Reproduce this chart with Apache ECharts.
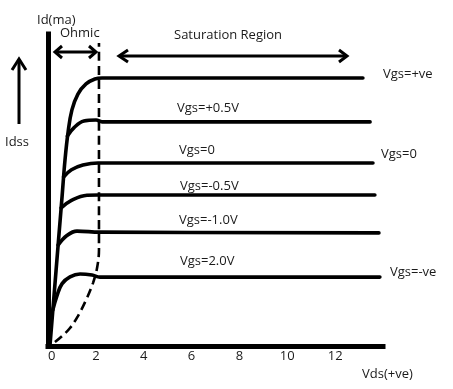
<!DOCTYPE html>
<html>
<head>
<meta charset="utf-8">
<script src="https://cdn.jsdelivr.net/npm/echarts@6/dist/echarts.min.js"></script>
<style>html,body{margin:0;padding:0;background:#fff}#c{width:453px;height:389px}</style>
</head>
<body>
<div id="c"></div>
<script>
// Vds tick labels
var xTickLabels = ['0', '2', '4', '6', '8', '10', '12'];
// Drain current curves: [Vds, Id]
var curvePlusVe = [[0.08,0],[0.25,1.92],[0.42,3.85],[0.59,5.77],[0.71,7.15],[0.84,8.23],[1.00,9.08],[1.25,9.69],[1.59,10.08],[1.96,10.27],[2.26,10.31],[13.16,10.31]];
var curvePlus05 = [[0.81,8.08],[1.09,8.40],[1.50,8.65],[2.01,8.69],[2.26,8.62],[13.46,8.62]];
var curveZero = [[0.65,6.5],[0.98,6.78],[1.46,6.96],[2.09,7.04],[13.58,7.04]];
var curveMinus05 = [[0.55,5.31],[0.98,5.60],[1.63,5.80],[2.09,5.81],[13.66,5.81]];
var curveMinus10 = [[0.42,3.88],[0.79,4.25],[1.21,4.42],[2.17,4.38],[13.83,4.35]];
var curveMinus20 = [[0.20,1.38],[0.38,1.95],[0.59,2.40],[0.92,2.66],[1.34,2.77],[1.84,2.73],[2.17,2.65],[13.87,2.65]];
// Pinch-off boundary (dashed)
var pinchOff = [[0.29,0.15],[0.59,0.38],[0.92,0.69],[1.25,1.15],[1.59,1.77],[1.88,2.42],[2.05,3.0],[2.13,3.69],[2.13,11.65]];

var FONT = '13px "Open Sans"';
var TXT = '#1a1a1a';
function txt(s, x, y) {
  return {type:'text', x:x, y:y, style:{text:s, font:FONT, fill:TXT, align:'left', verticalAlign:'middle'}};
}
function pl(points, w) {
  return {type:'polyline', shape:{points:points}, style:{stroke:'#000', lineWidth:w||3, fill:null, lineCap:'butt', lineJoin:'miter'}};
}
function curve(name, data) {
  return {name:name, type:'line', data:data, showSymbol:false, smooth:0.4,
    lineStyle:{color:'#000', width:3.6, cap:'round', join:'round'}, itemStyle:{color:'#000'}, clip:false, z:3};
}

var chart = echarts.init(document.getElementById('c'), null, {renderer:'canvas'});
chart.setOption({
  animation:false,
  backgroundColor:'#fff',
  grid:{left:48, top:34, width:335, height:312, containLabel:false},
  xAxis:{type:'value', min:0, max:14, interval:2,
    axisLine:{show:true, lineStyle:{color:'#000', width:5, cap:'square'}},
    axisTick:{show:false}, splitLine:{show:false},
    axisLabel:{margin:4, color:TXT, fontFamily:'Open Sans', fontSize:13, alignMinLabel:'left',
      formatter:function(v){ return xTickLabels.indexOf(String(v)) >= 0 ? String(v) : ''; }}},
  yAxis:{type:'value', min:0, max:12,
    axisLine:{show:true, lineStyle:{color:'#000', width:5, cap:'square'}},
    axisTick:{show:false}, axisLabel:{show:false}, splitLine:{show:false}},
  series:[
    curve('Vgs=+ve', curvePlusVe),
    curve('Vgs=+0.5V', curvePlus05),
    curve('Vgs=0', curveZero),
    curve('Vgs=-0.5V', curveMinus05),
    curve('Vgs=-1.0V', curveMinus10),
    curve('Vgs=2.0V', curveMinus20),
    {name:'pinch-off', type:'line', data:pinchOff, showSymbol:false, smooth:0.35,
      lineStyle:{color:'#000', width:2.6, type:[9,5]}, clip:false, z:4}
  ],
  graphic:[
    txt('Id(ma)', 37, 20),
    txt('Ohmic', 60, 33),
    txt('Saturation Region', 174, 35),
    txt('Idss', 5, 142),
    txt('Vgs=+ve', 383, 74),
    txt('Vgs=+0.5V', 177, 108),
    txt('Vgs=0', 179, 150),
    txt('Vgs=0', 381, 154),
    txt('Vgs=-0.5V', 180, 186),
    txt('Vgs=-1.0V', 179, 220),
    txt('Vgs=2.0V', 180, 261),
    txt('Vgs=-ve', 390, 272),
    txt('Vds(+ve)', 362, 374),
    // up arrow
    pl([[19,59],[19,124]], 3),
    pl([[12,70],[19,59],[26,70]], 3),
    // ohmic double arrow
    pl([[55,52],[96,52]], 3),
    pl([[62,46],[55,52],[62,58]], 3),
    pl([[89,46],[96,52],[89,58]], 3),
    // saturation double arrow
    pl([[119,56],[347,56]], 3),
    pl([[128,50],[119,56],[128,62]], 3),
    pl([[339,50],[347,56],[339,62]], 3)
  ]
});
</script>
</body>
</html>
